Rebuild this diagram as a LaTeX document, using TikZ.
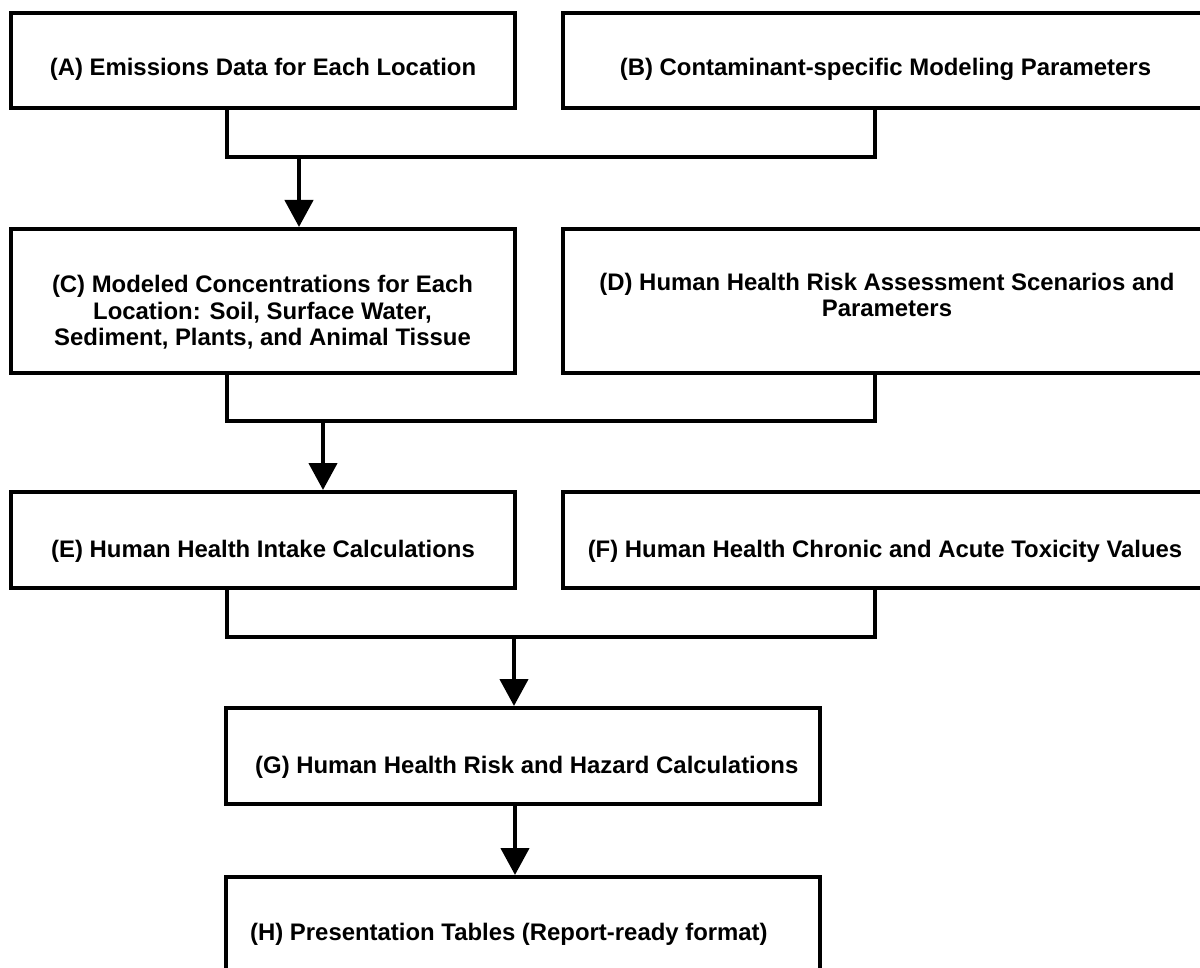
\documentclass[tikz,border=0pt]{standalone}
\usepackage{fontspec}
\setmainfont{Liberation Sans}
\usetikzlibrary{arrows.meta}
\begin{document}
\begin{tikzpicture}[x=1pt,y=-1pt,
  box/.style={draw=black, line width=4.5pt, rectangle, inner sep=0pt, outer sep=0pt, fill=white},
  lbl/.style={font=\fontsize{23.9pt}{26.5pt}\selectfont\bfseries, inner sep=0pt, align=center},
  conn/.style={line width=4.5pt},
  arr/.style={line width=4.5pt, -{Triangle[width=28pt,length=27pt]}, shorten >=2pt}
]
\useasboundingbox (0,0) rectangle (1200,968);
\clip (0,0) rectangle (1200,968);
\fill[white] (0,0) rectangle (1200,968);

% boxes
\node[box, minimum width=504pt, minimum height=95pt] (A) at (263,60.5) {};
\node[box, minimum width=646pt, minimum height=95pt] (B) at (886,60.5) {};
\node[box, minimum width=504pt, minimum height=144pt] (C) at (263,301) {};
\node[box, minimum width=646pt, minimum height=144pt] (D) at (886,301) {};
\node[box, minimum width=504pt, minimum height=96pt] (E) at (263,540) {};
\node[box, minimum width=646pt, minimum height=96pt] (F) at (886,540) {};
\node[box, minimum width=594pt, minimum height=96pt] (G) at (523,756) {};
\node[box, minimum width=594pt, minimum height=96pt] (H) at (523,925) {};

% labels
\node[lbl, anchor=base] (tA) at (263,76) {(A) Emissions Data for Each Location};
\node[lbl, anchor=base] (tB) at (885.5,76) {(B) Contaminant-specific Modeling Parameters};
\node[lbl] (tC) at (262.5,312.5) {(C) Modeled Concentrations for Each\\Location: Soil, Surface Water,\\Sediment, Plants, and Animal Tissue};
\node[lbl] (tD) at (887,294.8) {(D) Human Health Risk Assessment Scenarios and\\Parameters};
\node[lbl, anchor=base] (tE) at (263,557) {(E) Human Health Intake Calculations};
\node[lbl, anchor=base] (tF) at (885,557) {(F) Human Health Chronic and Acute Toxicity Values};
\node[lbl, anchor=base west] (tG) at (255,773) {(G) Human Health Risk and Hazard Calculations};
\node[lbl, anchor=base west] (tH) at (250,940) {(H) Presentation Tables (Report-ready format)};

% junction coordinates
\coordinate (j1l) at (227,157);
\coordinate (j1r) at (875,157);
\coordinate (j1a) at (299,157);
\coordinate (j2l) at (227,421);
\coordinate (j2r) at (875,421);
\coordinate (j2a) at (323,421);
\coordinate (j3l) at (227,637);
\coordinate (j3r) at (875,637);
\coordinate (j3a) at (514,637);
\coordinate (j4) at (515,0);

% connectors
\draw[conn] (j1l |- A.south) -- (j1l) -- (j1r) -- (j1r |- B.south);
\draw[arr] (j1a) -- (j1a |- C.north);
\draw[conn] (j2l |- C.south) -- (j2l) -- (j2r) -- (j2r |- D.south);
\draw[arr] (j2a) -- (j2a |- E.north);
\draw[conn] (j3l |- E.south) -- (j3l) -- (j3r) -- (j3r |- F.south);
\draw[arr] (j3a) -- (j3a |- G.north);
\draw[arr] (j4 |- G.south) -- (j4 |- H.north);
\end{tikzpicture}
\end{document}
